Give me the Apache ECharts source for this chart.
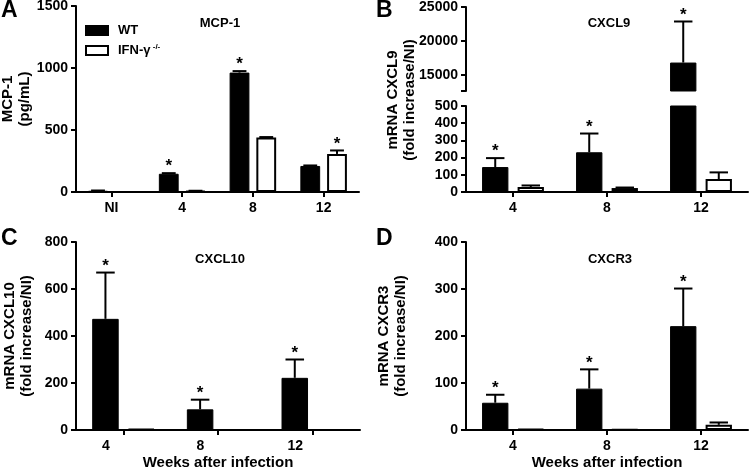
<!DOCTYPE html>
<html><head><meta charset="utf-8">
<script src="https://cdn.jsdelivr.net/npm/echarts@6/dist/echarts.min.js"></script>
<style>html,body{margin:0;padding:0;background:#fff}#c{width:750px;height:471px}</style>
</head><body><div id="c"></div>
<script>
// ---- data ----
const WT = 'WT';
const IFN = 'IFN-γ -/-';
const catsA = ['NI', '4', '8', '12'];
const wtA = [10, 147, 963, 210];
const wtErrA = [2, 5, 12, 4];
const ifnA = [null, 8, 440, 307];
const ifnErrA = [0, 2, 3, 28];
const sigWtA = [0, 1, 1, 0];
const sigIfnA = [0, 0, 0, 1];

const weeks = ['4', '8', '12'];
const wtB = [145, 231, 16800];
const wtErrB = [52, 109, 6060];
const ifnB = [29, 23, 75];
const ifnErrB = [9, 3, 39];
const sigWtB = [1, 1, 1];
const sigIfnB = [0, 0, 0];

const wtC = [473, 88, 222];
const wtErrC = [197, 41, 78];
const ifnC = [4, 1, 1];
const ifnErrC = [0, 0, 0];
const sigWtC = [1, 1, 1];
const sigIfnC = [0, 0, 0];

const wtD = [58, 88, 221];
const wtErrD = [17, 41, 80];
const ifnD = [2, 1, 11];
const ifnErrD = [0, 0, 5];
const sigWtD = [1, 1, 1];
const sigIfnD = [0, 0, 0];

const ticksBUpper = [15000, 20000, 25000];
// ---- style ----
const FONT = '"Liberation Sans", Arial, sans-serif';
const BAR_W = 0.28, BAR_GAP = 0.35;
const black = '#000';
const plain = v => String(v);
const lineS = {show: true, lineStyle: {color: black, width: 2}};
const tickS = {show: true, length: 5, lineStyle: {color: black, width: 2}};
const labS = {color: black, fontSize: 14, fontWeight: 'bold', fontFamily: FONT};
const nameS = {color: black, fontSize: 15, fontWeight: 'bold', fontFamily: FONT, lineHeight: 17};

function xCat(grid, data, extra) {
  return Object.assign({
    type: 'category', gridIndex: grid, data: data,
    axisLine: lineS, axisTick: Object.assign({alignWithLabel: true}, tickS),
    axisLabel: Object.assign({margin: 9}, labS), splitLine: {show: false}
  }, extra || {});
}
function yVal(grid, min, max, interval, extra) {
  return Object.assign({
    type: 'value', gridIndex: grid, min: min, max: max, interval: interval,
    axisLine: lineS, axisTick: tickS, axisLabel: Object.assign({margin: 8, formatter: plain}, labS),
    splitLine: {show: false}, nameTextStyle: nameS
  }, extra || {});
}
function bars(name, data, ax) {
  const isWT = name === WT;
  return {
    type: 'bar', name: name, xAxisIndex: ax, yAxisIndex: ax, data: data,
    barWidth: (BAR_W * 100) + '%', barGap: (BAR_GAP * 100) + '%', clip: true,
    itemStyle: isWT ? {color: black, borderColor: black, borderWidth: 1}
                    : {color: '#fff', borderColor: black, borderWidth: 2},
    emphasis: {disabled: true}, z: 2
  };
}
function errs(name, values, errors, sigs, ax, yMin, yMax) {
  const side = name === WT ? -1 : 1;
  return {
    type: 'custom', name: name, xAxisIndex: ax, yAxisIndex: ax, z: 5,
    data: values.map((v, i) => [i, v == null ? NaN : v, errors[i], sigs[i]]),
    renderItem: function (params, api) {
      const i = api.value(0), v = api.value(1), e = api.value(2), s = api.value(3);
      if (isNaN(v) || v < yMin || v + e > yMax) return;
      const band = api.size([1, 0])[0];
      const w = band * BAR_W, g = w * BAR_GAP;
      const base = api.coord([i, v]);
      const top = api.coord([i, v + e]);
      const x = base[0] + side * (w + g) / 2;
      const ch = [];
      if (e > 0) {
        ch.push({type: 'line', shape: {x1: x, y1: base[1], x2: x, y2: top[1]}, style: {stroke: black, lineWidth: 2}});
        ch.push({type: 'line', shape: {x1: x - w * 0.35, y1: top[1], x2: x + w * 0.35, y2: top[1]}, style: {stroke: black, lineWidth: 2}});
      }
      if (s) ch.push({type: 'text', x: x, y: top[1] + 2,
        style: {text: '*', fill: black, font: 'bold 17px ' + FONT, align: 'center', verticalAlign: 'bottom'}});
      return {type: 'group', children: ch};
    }
  };
}

const chart = echarts.init(document.getElementById('c'), null, {renderer: 'canvas'});
const titleS = {color: black, fontSize: 13, fontWeight: 'bold', fontFamily: FONT};
const letterS = {color: black, fontSize: 23, fontWeight: 'bold', fontFamily: FONT};
chart.setOption({
  animation: false,
  backgroundColor: '#fff',
  textStyle: {fontFamily: FONT},
  title: [
    {text: 'A', left: 1, top: -1, padding: 0, textStyle: letterS},
    {text: 'B', left: 376, top: -1, padding: 0, textStyle: letterS},
    {text: 'C', left: 1, top: 227, padding: 0, textStyle: letterS},
    {text: 'D', left: 376, top: 227, padding: 0, textStyle: letterS},
    {text: 'MCP-1', left: 220, top: 17, textAlign: 'center', padding: 0, textStyle: titleS},
    {text: 'CXCL9', left: 609, top: 17, textAlign: 'center', padding: 0, textStyle: titleS},
    {text: 'CXCL10', left: 220, top: 253, textAlign: 'center', padding: 0, textStyle: titleS},
    {text: 'CXCR3', left: 610, top: 253, textAlign: 'center', padding: 0, textStyle: titleS}
  ],
  legend: {
    orient: 'vertical', left: 85, top: 24, padding: 0, itemWidth: 22, itemHeight: 9, itemGap: 6,
    icon: 'rect', data: [WT, IFN], selectedMode: false,
    formatter: function (n) { return n === WT ? '{b|WT}' : '{b|IFN-γ}{s| -/-}'; },
    textStyle: {color: black, rich: {
      b: {fontSize: 13, fontWeight: 'bold', fontFamily: FONT, color: black, padding: [0, 0, 0, 5], lineHeight: 15},
      s: {fontSize: 8, fontWeight: 'bold', fontFamily: FONT, color: black, verticalAlign: 'top', lineHeight: 15}
    }}
  },
  grid: [
    {left: 76, top: 6, width: 283, height: 186, outerBoundsMode: 'none'},
    {left: 466, top: 7, width: 282, height: 84, outerBoundsMode: 'none'},
    {left: 466, top: 106, width: 282, height: 86, outerBoundsMode: 'none'},
    {left: 76, top: 242, width: 284, height: 188, outerBoundsMode: 'none'},
    {left: 466, top: 242, width: 282, height: 188, outerBoundsMode: 'none'}
  ],
  xAxis: [
    xCat(0, catsA),
    xCat(1, weeks, {axisLine: {show: false}, axisTick: {show: false}, axisLabel: {show: false}}),
    xCat(2, weeks),
    xCat(3, weeks, {name: 'Weeks after infection', nameLocation: 'middle', nameGap: 21, nameTextStyle: nameS,
      axisLabel: Object.assign({margin: 9, padding: [0, 35, 0, 0]}, labS)}),
    xCat(4, weeks, {name: 'Weeks after infection', nameLocation: 'middle', nameGap: 21, nameTextStyle: nameS})
  ],
  yAxis: [
    yVal(0, 0, 1500, 500, {name: 'MCP-1\n(pg/mL)', nameLocation: 'middle', nameGap: 40}),
    yVal(1, 12600, 25000, null, {
      axisLabel: Object.assign({margin: 8, formatter: plain, customValues: ticksBUpper}, labS),
      axisTick: Object.assign({customValues: [12600].concat(ticksBUpper)}, tickS)}),
    yVal(2, 0, 500, 100),
    yVal(3, 0, 800, 200, {name: 'mRNA CXCL10\n(fold increase/NI)', nameLocation: 'middle', nameGap: 41}),
    yVal(4, 0, 400, 100, {name: 'mRNA CXCR3\n(fold increase/NI)', nameLocation: 'middle', nameGap: 57})
  ],
  graphic: [{
    type: 'text', x: 401, y: 100, rotation: Math.PI / 2,
    style: {text: 'mRNA CXCL9\n(fold increase/NI)', fill: black, font: 'bold 15px ' + FONT,
      align: 'center', verticalAlign: 'middle', lineHeight: 17}
  }],
  series: [
    bars(WT, wtA, 0), bars(IFN, ifnA, 0),
    errs(WT, wtA, wtErrA, sigWtA, 0, 0, 1500), errs(IFN, ifnA, ifnErrA, sigIfnA, 0, 0, 1500),
    bars(WT, wtB, 1), bars(IFN, ifnB, 1),
    errs(WT, wtB, wtErrB, sigWtB, 1, 12600, 25000), errs(IFN, ifnB, ifnErrB, sigIfnB, 1, 12600, 25000),
    bars(WT, wtB, 2), bars(IFN, ifnB, 2),
    errs(WT, wtB, wtErrB, sigWtB, 2, 0, 500), errs(IFN, ifnB, ifnErrB, sigIfnB, 2, 0, 500),
    bars(WT, wtC, 3), bars(IFN, ifnC, 3),
    errs(WT, wtC, wtErrC, sigWtC, 3, 0, 800), errs(IFN, ifnC, ifnErrC, sigIfnC, 3, 0, 800),
    bars(WT, wtD, 4), bars(IFN, ifnD, 4),
    errs(WT, wtD, wtErrD, sigWtD, 4, 0, 400), errs(IFN, ifnD, ifnErrD, sigIfnD, 4, 0, 400)
  ]
});
</script></body></html>
